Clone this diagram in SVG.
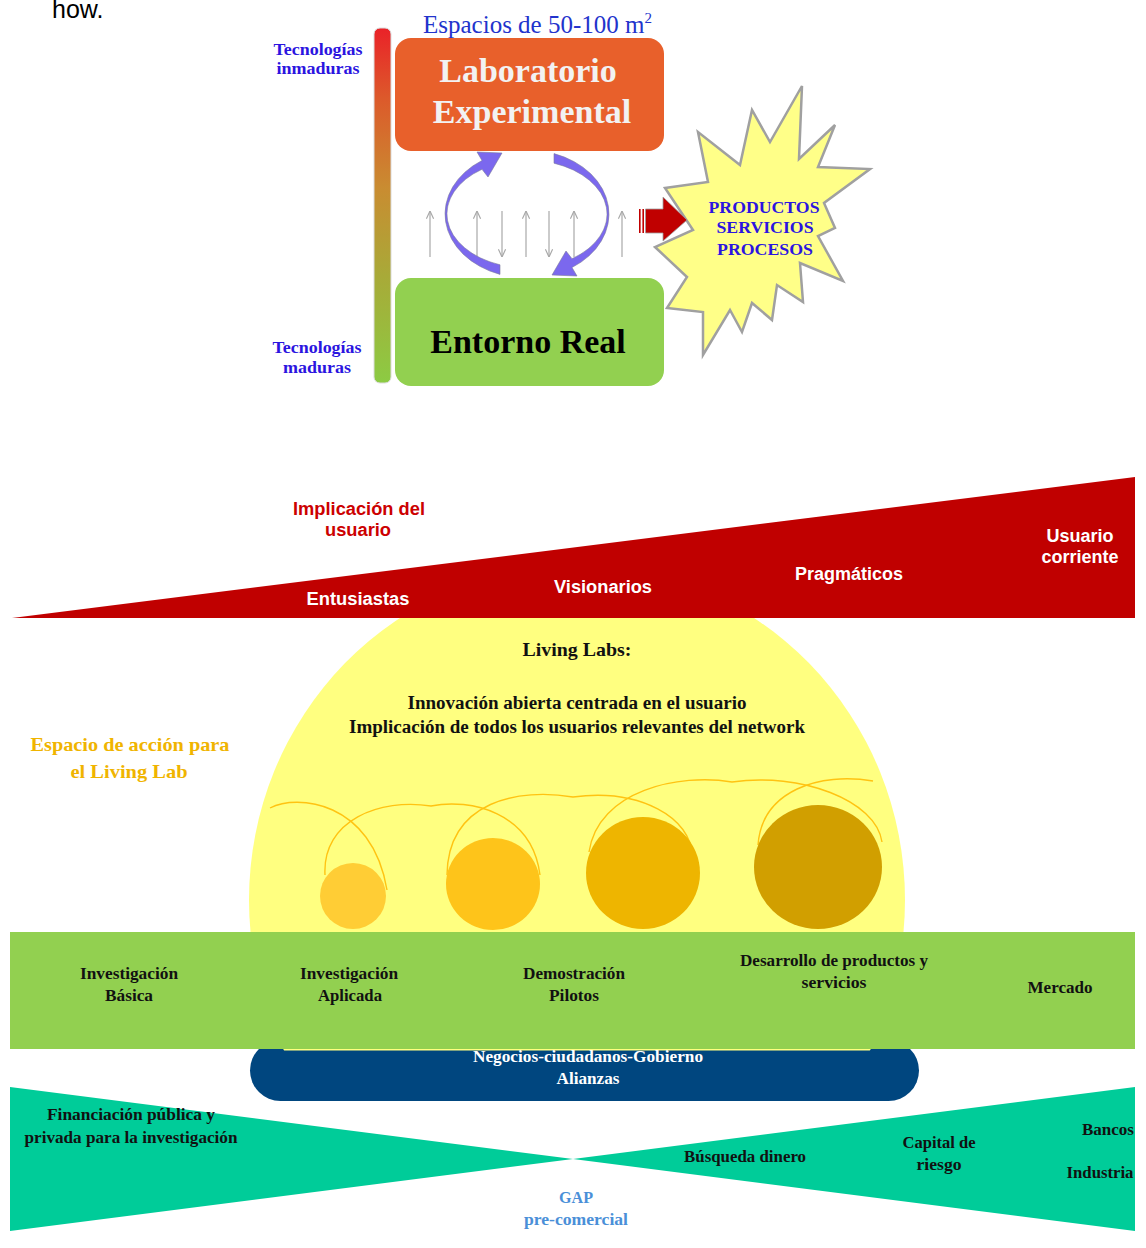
<svg xmlns="http://www.w3.org/2000/svg" width="1146" height="1248" viewBox="0 0 1146 1248">
<style>
.serifB{font-family:"Liberation Serif","Times New Roman",serif;font-weight:bold}
.serif{font-family:"Liberation Serif","Times New Roman",serif}
.sansB{font-family:"Liberation Sans",Arial,sans-serif;font-weight:bold}
.blue{fill:#2b14e0}
.band{font-size:17px;fill:#111}
.tri{font-size:18px;fill:#ffffff}
.thin{stroke:#a8a8a8;stroke-width:1.2;fill:none}
.loop{stroke:#ffc312;stroke-width:1.4;fill:none}
.cyc{fill:#7b68ee;stroke:#7a7a9a;stroke-width:0.6}
</style>
<defs>
<linearGradient id="bar" x1="0" y1="0" x2="0" y2="1">
<stop offset="0" stop-color="#ea2228"/>
<stop offset="0.2" stop-color="#dc5a2b"/>
<stop offset="0.45" stop-color="#c98c31"/>
<stop offset="0.7" stop-color="#a8aa38"/>
<stop offset="1" stop-color="#8ccb43"/>
</linearGradient>
<marker id="open" viewBox="0 0 10 10" refX="9.5" refY="5" markerWidth="9" markerHeight="9" markerUnits="userSpaceOnUse" orient="auto">
<path d="M1,1 L9.5,5 L1,9" fill="none" stroke="#a8a8a8" stroke-width="1.3"/>
</marker>
<clipPath id="clipY"><rect x="0" y="618" width="1146" height="432.5"/></clipPath>
</defs>

<text x="52" y="18" font-family="Liberation Sans, Arial, sans-serif" font-size="25" fill="#000">how.</text>

<!-- ===== Top section ===== -->
<g id="maturity-bar">
<rect x="374" y="28" width="17" height="355" rx="6" fill="url(#bar)" stroke="#dcdcdc" stroke-width="1"/>
</g>
<g id="label-inmaduras">
<text class="serifB blue" font-size="17" text-anchor="middle" x="318" y="55" textLength="89" lengthAdjust="spacingAndGlyphs">Tecnologías</text>
<text class="serifB blue" font-size="17" text-anchor="middle" x="318" y="74" textLength="83" lengthAdjust="spacingAndGlyphs">inmaduras</text>
</g>
<g id="label-maduras">
<text class="serifB blue" font-size="17" text-anchor="middle" x="317" y="353" textLength="89" lengthAdjust="spacingAndGlyphs">Tecnologías</text>
<text class="serifB blue" font-size="17" text-anchor="middle" x="317" y="373" textLength="68" lengthAdjust="spacingAndGlyphs">maduras</text>
</g>
<g id="label-espacios">
<text class="serif" x="423" y="33" font-size="25" fill="#2233cc">Espacios de 50-100 m<tspan font-size="15" dy="-10">2</tspan></text>
</g>

<g id="connectors">
<line class="thin" x1="430" y1="257" x2="430" y2="211" marker-end="url(#open)"/>
<line class="thin" x1="477" y1="257" x2="477" y2="211" marker-end="url(#open)"/>
<line class="thin" x1="502" y1="211" x2="502" y2="257" marker-end="url(#open)"/>
<line class="thin" x1="526" y1="257" x2="526" y2="211" marker-end="url(#open)"/>
<line class="thin" x1="549" y1="211" x2="549" y2="257" marker-end="url(#open)"/>
<line class="thin" x1="574" y1="257" x2="574" y2="211" marker-end="url(#open)"/>
<line class="thin" x1="622" y1="257" x2="622" y2="211" marker-end="url(#open)"/>
<path id="cycle-left" class="cyc" d="M500,274.4 A82,64 0 0 1 482,160.5 L477,152 L502,153 L488,177 L482,169.3 A80,54 0 0 0 500,264.8 Z"/>
<path id="cycle-right" class="cyc" d="M500,274.4 A82,64 0 0 1 482,160.5 L477,152 L502,153 L488,177 L482,169.3 A80,54 0 0 0 500,264.8 Z" transform="rotate(180 527 214)"/>
</g>

<g id="node-laboratorio">
<rect x="395" y="38" width="269" height="113" rx="16" fill="#e8602b"/>
<text class="serifB" font-size="34" fill="#f2f2f2" text-anchor="middle" x="528" y="82">Laboratorio</text>
<text class="serifB" font-size="34" fill="#f2f2f2" text-anchor="middle" x="532" y="123">Experimental</text>
</g>
<g id="node-entorno">
<rect x="395" y="278" width="269" height="108" rx="16" fill="#92d050"/>
<text class="serifB" font-size="34" fill="#000" text-anchor="middle" x="528" y="353">Entorno Real</text>
</g>

<g id="node-productos">
<polygon points="802,86 799,159 835,125 818,167 870,169 824,203 835,228 818,236 843,281 800,263 803,302 777,285 772,320 752,303 742,332 730,310 703,355 703,312 667,308 687,277 655,247 693,230 665,188 708,182 698,132 740,165 752,110 770,142" fill="#ffff88" stroke="#a0a0a0" stroke-width="2.5" stroke-linejoin="miter"/>
<text class="serifB blue" font-size="17.5" text-anchor="middle" x="764" y="213" textLength="111" lengthAdjust="spacingAndGlyphs">PRODUCTOS</text>
<text class="serifB blue" font-size="17.5" text-anchor="middle" x="765" y="233" textLength="97" lengthAdjust="spacingAndGlyphs">SERVICIOS</text>
<text class="serifB blue" font-size="17.5" text-anchor="middle" x="765" y="255" textLength="96" lengthAdjust="spacingAndGlyphs">PROCESOS</text>
</g>

<g id="output-arrow">
<rect x="639" y="209" width="1.6" height="24" fill="#c00000"/>
<rect x="642.4" y="209" width="1.6" height="24" fill="#c00000"/>
<path d="M645.5,209 L663,209 L663,197 L687,220 L663,241 L663,233 L645.5,233 Z" fill="#c00000" stroke="#a0a0a0" stroke-width="0.8"/>
</g>

<!-- ===== Bottom section ===== -->
<g id="alianzas">
<rect x="250" y="1040" width="669" height="61" rx="30.5" fill="#00467f"/>
</g>

<g id="living-lab-space">
<ellipse cx="577" cy="900" rx="328" ry="335" fill="#ffff80" clip-path="url(#clipY)"/>
<path class="loop" d="M270,808 C296,794 372,800 387,890"/>
<path class="loop" d="M325,875 C322,820 380,798 431,806 C470,798 532,812 540,875"/>
<path class="loop" d="M447,875 C448,800 520,788 573,797 C640,788 692,818 692,856"/>
<path class="loop" d="M589,852 C598,790 680,773 732,782 C800,772 876,800 882,842"/>
<path class="loop" d="M758,845 C762,790 820,772 873,781"/>
<ellipse cx="353" cy="896" rx="33" ry="33" fill="#ffcd35"/>
<ellipse cx="493" cy="884" rx="47" ry="46" fill="#fec41a"/>
<ellipse cx="643" cy="873" rx="57" ry="56" fill="#eeb500"/>
<ellipse cx="818" cy="867" rx="64" ry="62" fill="#d19f00"/>
<text class="serifB" font-size="19" fill="#111" text-anchor="middle" x="577" y="656" textLength="109" lengthAdjust="spacingAndGlyphs">Living Labs:</text>
<text class="serifB" font-size="18" fill="#111" text-anchor="middle" x="577" y="709" textLength="339" lengthAdjust="spacingAndGlyphs">Innovación abierta centrada en el usuario</text>
<text class="serifB" font-size="18" fill="#111" text-anchor="middle" x="577" y="733" textLength="456" lengthAdjust="spacingAndGlyphs">Implicación de todos los usuarios relevantes del network</text>
</g>

<g id="label-espacio-accion">
<text class="serifB" font-size="19" fill="#f0b400" text-anchor="middle" x="130" y="751" textLength="199" lengthAdjust="spacingAndGlyphs">Espacio de acción para</text>
<text class="serifB" font-size="19" fill="#f0b400" text-anchor="middle" x="129" y="778" textLength="117" lengthAdjust="spacingAndGlyphs">el Living Lab</text>
</g>

<g id="stages-band">
<rect x="10" y="932" width="1125" height="117" fill="#92d050"/>
<text class="serifB band" text-anchor="middle" x="129" y="979" textLength="98" lengthAdjust="spacingAndGlyphs">Investigación</text>
<text class="serifB band" text-anchor="middle" x="129" y="1001" textLength="48" lengthAdjust="spacingAndGlyphs">Básica</text>
<text class="serifB band" text-anchor="middle" x="349" y="979" textLength="98" lengthAdjust="spacingAndGlyphs">Investigación</text>
<text class="serifB band" text-anchor="middle" x="350" y="1001" textLength="64" lengthAdjust="spacingAndGlyphs">Aplicada</text>
<text class="serifB band" text-anchor="middle" x="574" y="979" textLength="102" lengthAdjust="spacingAndGlyphs">Demostración</text>
<text class="serifB band" text-anchor="middle" x="574" y="1001" textLength="50" lengthAdjust="spacingAndGlyphs">Pilotos</text>
<text class="serifB band" text-anchor="middle" x="834" y="966" textLength="188" lengthAdjust="spacingAndGlyphs">Desarrollo de productos y</text>
<text class="serifB band" text-anchor="middle" x="834" y="988" textLength="65" lengthAdjust="spacingAndGlyphs">servicios</text>
<text class="serifB band" text-anchor="middle" x="1060" y="993" textLength="65" lengthAdjust="spacingAndGlyphs">Mercado</text>
</g>

<g id="alianzas-text">
<text class="serifB" font-size="16" fill="#ffffff" text-anchor="middle" x="588" y="1062" textLength="230" lengthAdjust="spacingAndGlyphs">Negocios-ciudadanos-Gobierno</text>
<text class="serifB" font-size="16" fill="#ffffff" text-anchor="middle" x="588" y="1084" textLength="63" lengthAdjust="spacingAndGlyphs">Alianzas</text>
</g>

<g id="user-involvement">
<polygon points="12,618 1135,477 1135,618" fill="#c00000"/>
<text class="sansB" font-size="18" fill="#cc0000" text-anchor="middle" x="359" y="515" textLength="132" lengthAdjust="spacingAndGlyphs">Implicación del</text>
<text class="sansB" font-size="18" fill="#cc0000" text-anchor="middle" x="358" y="536" textLength="66" lengthAdjust="spacingAndGlyphs">usuario</text>
<text class="sansB tri" text-anchor="middle" x="358" y="605" textLength="103" lengthAdjust="spacingAndGlyphs">Entusiastas</text>
<text class="sansB tri" text-anchor="middle" x="603" y="593" textLength="98" lengthAdjust="spacingAndGlyphs">Visionarios</text>
<text class="sansB tri" text-anchor="middle" x="849" y="580" textLength="108" lengthAdjust="spacingAndGlyphs">Pragmáticos</text>
<text class="sansB tri" text-anchor="middle" x="1080" y="542" textLength="67" lengthAdjust="spacingAndGlyphs">Usuario</text>
<text class="sansB tri" text-anchor="middle" x="1080" y="563" textLength="77" lengthAdjust="spacingAndGlyphs">corriente</text>
</g>

<g id="funding">
<polygon points="10,1087 573,1159 10,1231" fill="#00cc99"/>
<polygon points="1135,1087 573,1159 1135,1231" fill="#00cc99"/>
<text class="serifB band" text-anchor="middle" x="131" y="1120" textLength="168" lengthAdjust="spacingAndGlyphs">Financiación pública y</text>
<text class="serifB band" text-anchor="middle" x="131" y="1143" textLength="213" lengthAdjust="spacingAndGlyphs">privada para la investigación</text>
<text class="serifB band" text-anchor="middle" x="745" y="1162" textLength="122" lengthAdjust="spacingAndGlyphs">Búsqueda dinero</text>
<text class="serifB band" text-anchor="middle" x="939" y="1148" textLength="73" lengthAdjust="spacingAndGlyphs">Capital de</text>
<text class="serifB band" text-anchor="middle" x="939" y="1170" textLength="45" lengthAdjust="spacingAndGlyphs">riesgo</text>
<text class="serifB band" text-anchor="middle" x="1108" y="1135" textLength="52" lengthAdjust="spacingAndGlyphs">Bancos</text>
<text class="serifB band" text-anchor="middle" x="1100" y="1178" textLength="67" lengthAdjust="spacingAndGlyphs">Industria</text>
<text class="serifB" font-size="17" fill="#4a8fd8" text-anchor="middle" x="576" y="1203" textLength="34" lengthAdjust="spacingAndGlyphs">GAP</text>
<text class="serifB" font-size="17" fill="#4a8fd8" text-anchor="middle" x="576" y="1225" textLength="104" lengthAdjust="spacingAndGlyphs">pre-comercial</text>
</g>
</svg>
